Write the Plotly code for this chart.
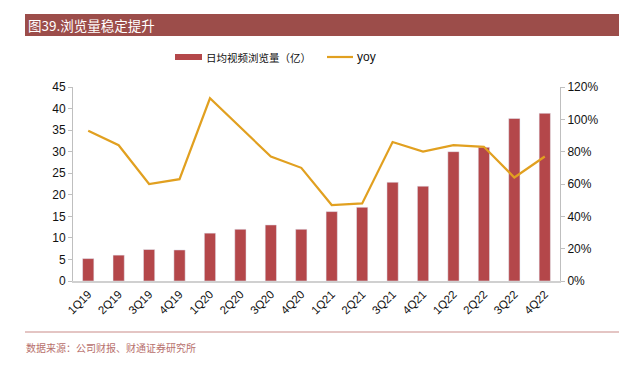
import plotly.graph_objects as go

categories = ["1Q19", "2Q19", "3Q19", "4Q19", "1Q20", "2Q20", "3Q20", "4Q20",
              "1Q21", "2Q21", "3Q21", "4Q21", "1Q22", "2Q22", "3Q22", "4Q22"]
views = [5.2, 6.0, 7.3, 7.2, 11.1, 12.0, 13.0, 12.0,
         16.1, 17.1, 22.9, 22.0, 30.0, 31.0, 37.7, 38.9]
yoy = [0.93, 0.84, 0.60, 0.63, 1.13, 0.95, 0.77, 0.70,
       0.47, 0.48, 0.86, 0.80, 0.84, 0.83, 0.64, 0.77]

title_text = "图39.浏览量稳定提升"
bar_name = "日均视频浏览量（亿）"
line_name = "yoy"
source_text = "数据来源：公司财报、财通证券研究所"

BAR_C = "#B4474A"
LINE_C = "#E1A020"
HEAD_C = "#9C4D4A"
FONT = "Liberation Sans, Arial, Noto Sans CJK SC, sans-serif"
CJK = "Noto Sans CJK SC, sans-serif"

OFF = 8  # page body margin
W, H = 627 - OFF, 366 - OFF
# plot area in screen pixels: x 73..560, y 87..281
PL, PR, PT, PB = 73, 560, 87, 281
L, T = PL - OFF, PT - OFF
R, B = W - (PR - OFF), H - (PB - OFF)
pw, ph = PR - PL, PB - PT

def px(x):
    return (x - PL) / pw

def py(y):
    return (PB - y) / ph

fig = go.Figure()
fig.add_trace(go.Bar(x=categories, y=views, name=bar_name, marker_color=BAR_C,
                     width=0.37, yaxis="y", showlegend=False))
fig.add_trace(go.Scatter(x=categories, y=yoy, name=line_name, mode="lines",
                         line=dict(color=LINE_C, width=2.2), yaxis="y2", showlegend=False))

shapes = [
    dict(type="rect", xref="paper", yref="paper", x0=px(25), x1=px(640), y0=py(36), y1=py(14),
         fillcolor=HEAD_C, line=dict(width=0), layer="below"),
    dict(type="line", xref="paper", yref="paper", x0=px(25), x1=px(640), y0=py(332), y1=py(332),
         line=dict(color="#C98B88", width=1)),
    dict(type="rect", xref="paper", yref="paper", x0=px(175), x1=px(202), y0=py(60), y1=py(54),
         fillcolor=BAR_C, line=dict(width=0)),
    dict(type="line", xref="paper", yref="paper", x0=px(327), x1=px(353), y0=py(57), y1=py(57),
         line=dict(color=LINE_C, width=2.2)),
]
annotations = [
    dict(text=title_text, xref="paper", yref="paper", x=px(26), y=py(25), xanchor="left",
         yanchor="middle", showarrow=False, font=dict(family=CJK, size=13.5, color="white")),
    dict(text=bar_name, xref="paper", yref="paper", x=px(204), y=py(57), xanchor="left",
         yanchor="middle", showarrow=False, font=dict(family=CJK, size=10.5, color="#111")),
    dict(text=line_name, xref="paper", yref="paper", x=px(355), y=py(57), xanchor="left",
         yanchor="middle", showarrow=False, font=dict(family=FONT, size=12, color="#111")),
    dict(text=source_text, xref="paper", yref="paper", x=px(24), y=py(347), xanchor="left",
         yanchor="middle", showarrow=False, font=dict(family=CJK, size=10, color="#B7706D")),
]

fig.update_layout(
    width=W, height=H,
    margin=dict(l=L, r=R, t=T, b=B, autoexpand=False),
    plot_bgcolor="white", paper_bgcolor="white",
    font=dict(family=FONT, size=12, color="#111"),
    shapes=shapes, annotations=annotations,
    xaxis=dict(showline=True, linecolor="#D0D0D0", linewidth=2, tickangle=-45,
               ticks="", tickfont=dict(size=11.5), showgrid=False),
    yaxis=dict(range=[0, 45], dtick=5, showline=True, linecolor="#BFBFBF", linewidth=1,
               ticks="outside", ticklen=4, tickcolor="#BFBFBF", showgrid=False, zeroline=False),
    yaxis2=dict(range=[0, 1.2], dtick=0.2, tickformat=".0%", overlaying="y", side="right",
                showline=True, linecolor="#BFBFBF", linewidth=1, ticks="outside", ticklen=4,
                tickcolor="#BFBFBF", showgrid=False, zeroline=False),
)

fig.write_html("out.html")
